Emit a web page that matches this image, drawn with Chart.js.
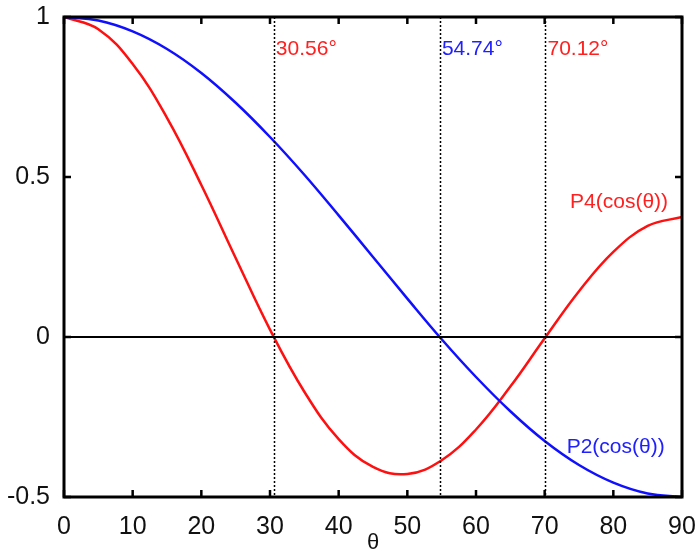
<!DOCTYPE html>
<html>
<head>
<meta charset="utf-8">
<script src="https://cdn.jsdelivr.net/npm/chart.js@4"></script>
<style>
  html, body { margin: 0; padding: 0; background: #fff; overflow: hidden; }
  #wrap { width: 697px; height: 556px; }
</style>
</head>
<body>
<div id="wrap"><canvas id="myChart"></canvas></div>
<script>
// theta in degrees
var theta = [0, 5, 10, 15, 20, 25, 30, 35, 40, 45, 50, 55, 60, 65, 70, 75, 80, 85, 90];
// values
var p2 = [1, 0.989, 0.955, 0.900, 0.825, 0.732, 0.625, 0.507, 0.380, 0.250, 0.120, -0.007, -0.125, -0.232, -0.325, -0.400, -0.455, -0.489, -0.5];
var p4 = [1, 0.962, 0.853, 0.685, 0.475, 0.247, 0.023, -0.171, -0.319, -0.406, -0.428, -0.385, -0.289, -0.155, -0.004, 0.143, 0.266, 0.347, 0.375];

var xTicks = [0, 10, 20, 30, 40, 50, 60, 70, 80, 90];
var yTicks = [-0.5, 0, 0.5, 1];

// dotted marker lines and their labels
var markAngles = [30.56, 54.74, 70.12];
var markLabels = ["30.56°", "54.74°", "70.12°"];
var markColors = ["#ff2020", "#2020ff", "#ff2020"];

var curveLabels = ["P4(cos(θ))", "P2(cos(θ))"];
var curveLabelPos = [[73.7, 0.42], [73.2, -0.344]];
var curveColors = ["#ff2020", "#2020ff"];

function pts(ys) {
  return theta.map(function (t, i) { return { x: t, y: ys[i] }; });
}

var FONT = '"Liberation Sans", Arial, sans-serif';

var overlay = {
  id: 'overlay',
  afterDraw: function (chart) {
    var ctx = chart.ctx;
    var a = chart.chartArea;
    var xs = chart.scales.x, ys = chart.scales.y;
    ctx.save();

    // zero line
    ctx.strokeStyle = '#000';
    ctx.lineWidth = 2;
    ctx.beginPath();
    ctx.moveTo(a.left, ys.getPixelForValue(0));
    ctx.lineTo(a.right, ys.getPixelForValue(0));
    ctx.stroke();

    // dotted verticals
    ctx.lineWidth = 1.5;
    ctx.setLineDash([2, 2]);
    markAngles.forEach(function (m) {
      var px = Math.round(xs.getPixelForValue(m)) + 0.5;
      ctx.beginPath();
      ctx.moveTo(px, a.top);
      ctx.lineTo(px, a.bottom);
      ctx.stroke();
    });
    ctx.setLineDash([]);

    // labels
    ctx.font = '21px ' + FONT;
    ctx.textBaseline = 'middle';
    ctx.textAlign = 'left';
    markAngles.forEach(function (m, i) {
      ctx.fillStyle = markColors[i];
      ctx.fillText(markLabels[i], xs.getPixelForValue(m) + 2, ys.getPixelForValue(0.9));
    });
    curveLabels.forEach(function (s, i) {
      ctx.fillStyle = curveColors[i];
      ctx.fillText(s, xs.getPixelForValue(curveLabelPos[i][0]), ys.getPixelForValue(curveLabelPos[i][1]));
    });

    // inward ticks
    ctx.strokeStyle = '#000';
    ctx.lineWidth = 2.5;
    var tl = 7;
    ctx.beginPath();
    xTicks.forEach(function (v) {
      var px = xs.getPixelForValue(v);
      ctx.moveTo(px, a.bottom); ctx.lineTo(px, a.bottom - tl);
      ctx.moveTo(px, a.top); ctx.lineTo(px, a.top + tl);
    });
    yTicks.forEach(function (v) {
      var py = ys.getPixelForValue(v);
      ctx.moveTo(a.left, py); ctx.lineTo(a.left + tl, py);
      ctx.moveTo(a.right, py); ctx.lineTo(a.right - tl, py);
    });
    ctx.stroke();

    // frame
    ctx.lineWidth = 3;
    ctx.strokeRect(a.left, a.top, a.right - a.left, a.bottom - a.top);
    ctx.restore();
  }
};

var data = {
  datasets: [{
    label: 'P2(cos(θ))',
    data: pts(p2),
    borderColor: '#1010ff',
    borderWidth: 2.5,
    pointRadius: 0,
    tension: 0.4,
    fill: false
  }, {
    label: 'P4(cos(θ))',
    data: pts(p4),
    borderColor: '#ff1010',
    borderWidth: 2.5,
    pointRadius: 0,
    tension: 0.4,
    fill: false
  }]
};

var config = {
  type: 'line',
  data: data,
  plugins: [overlay],
  options: {
    responsive: true,
    maintainAspectRatio: false,
    animation: false,
    layout: { padding: { top: 17, right: 15, left: 0, bottom: 0 } },
    plugins: { legend: { display: false }, tooltip: { enabled: false } },
    scales: {
      x: {
        type: 'linear',
        min: 0, max: 90,
        afterBuildTicks: function (s) { s.ticks = xTicks.map(function (v) { return { value: v }; }); },
        afterFit: function (s) { s.height = 59; s.paddingLeft = 0; s.paddingRight = 0; },
        grid: { display: false },
        border: { display: false },
        ticks: { color: '#111', font: { size: 25, family: FONT }, padding: 7, maxRotation: 0,
                 callback: function (v) { return String(v); } },
        title: { display: true, text: 'θ', color: '#111', font: { size: 22, family: FONT }, padding: { top: 0, bottom: 0 } }
      },
      y: {
        min: -0.5, max: 1,
        afterBuildTicks: function (s) { s.ticks = yTicks.map(function (v) { return { value: v }; }); },
        afterFit: function (s) { s.width = 64; s.paddingTop = 0; s.paddingBottom = 0; },
        grid: { display: false },
        border: { display: false },
        ticks: { color: '#111', font: { size: 25, family: FONT }, padding: 6,
                 callback: function (v) { return String(v); } }
      }
    }
  }
};

var myChart = new Chart(document.getElementById('myChart'), config);
</script>
</body>
</html>
